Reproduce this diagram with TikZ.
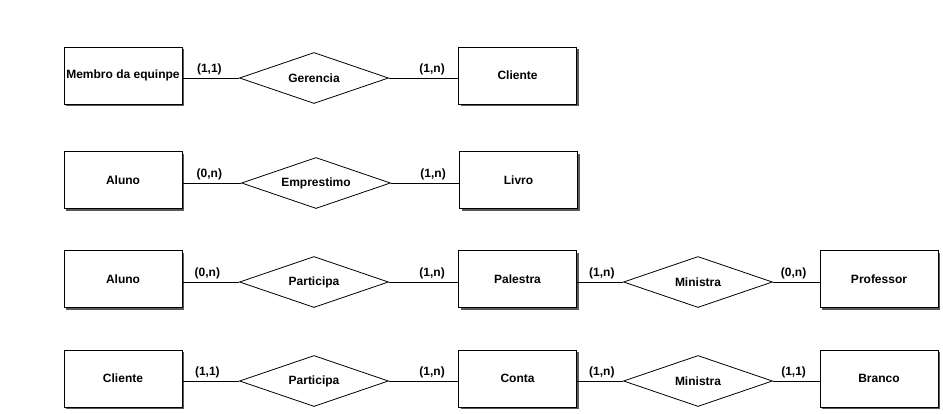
\documentclass[tikz,border=0pt]{standalone}
\usepackage{fontspec}
\setmainfont{Liberation Sans}
\usetikzlibrary{shapes.geometric,shadows}
\begin{document}
\begin{tikzpicture}[x=1pt,y=-1pt,
  font=\fontsize{12}{14}\selectfont\bfseries,
  entity/.style={draw=black, line width=0.8pt, fill=white, minimum width=118pt, minimum height=57pt, inner sep=0pt,
    drop shadow={shadow xshift=2pt, shadow yshift=-2pt, fill=black!65, opacity=1}},
  rel/.style={diamond, aspect=3, draw=black, line width=0.8pt, fill=white, minimum width=149pt, minimum height=51pt, inner sep=0pt},
  conn/.style={draw=black, line width=0.8pt},
  card/.style={inner sep=1pt, anchor=south}]
\useasboundingbox (0,0) rectangle (943,413);
% Row 1
\node[entity] (e11) at (123,75.5) {Membro da equinpe};
\node[rel] (r11) at (314,78) {Gerencia};
\node[entity] (e12) at (517.5,75.5) {Cliente};
\draw[conn] (e11.east |- r11.west) -- (r11.west);
\draw[conn] (r11.east) -- (e12.west |- r11.east);
\node[card] (c11) at ([xshift=27pt,yshift=1.5pt]e11.east |- r11.west) {(1,1)};
\node[card] (c12) at ([xshift=-26pt,yshift=1.5pt]e12.west |- r11.east) {(1,n)};
% Row 2
\node[entity] (e21) at (123,180) {Aluno};
\node[rel] (r21) at (316,183) {Emprestimo};
\node[entity] (e22) at (518.5,180) {Livro};
\draw[conn] (e21.east |- r21.west) -- (r21.west);
\draw[conn] (r21.east) -- (e22.west |- r21.east);
\node[card] (c21) at ([xshift=27pt,yshift=1.5pt]e21.east |- r21.west) {(0,n)};
\node[card] (c22) at ([xshift=-26pt,yshift=1.5pt]e22.west |- r21.east) {(1,n)};
% Row 3
\node[entity] (e31) at (123,279) {Aluno};
\node[rel] (r31) at (314,282) {Participa};
\node[entity] (e32) at (517.5,279) {Palestra};
\node[rel] (r32) at (698,282) {Ministra};
\node[entity] (e33) at (879,279) {Professor};
\draw[conn] (e31.east |- r31.west) -- (r31.west);
\draw[conn] (r31.east) -- (e32.west |- r31.east);
\draw[conn] (e32.east |- r32.west) -- (r32.west);
\draw[conn] (r32.east) -- (e33.west |- r32.east);
\node[card] (c31) at ([xshift=25pt,yshift=1.5pt]e31.east |- r31.west) {(0,n)};
\node[card] (c32) at ([xshift=-26pt,yshift=1.5pt]e32.west |- r31.east) {(1,n)};
\node[card] (c33) at ([xshift=25pt,yshift=1.5pt]e32.east |- r32.west) {(1,n)};
\node[card] (c34) at ([xshift=-26pt,yshift=1.5pt]e33.west |- r32.east) {(0,n)};
% Row 4
\node[entity] (e41) at (123,378.5) {Cliente};
\node[rel] (r41) at (314,381) {Participa};
\node[entity] (e42) at (517.5,378.5) {Conta};
\node[rel] (r42) at (698,381) {Ministra};
\node[entity] (e43) at (879,378.5) {Branco};
\draw[conn] (e41.east |- r41.west) -- (r41.west);
\draw[conn] (r41.east) -- (e42.west |- r41.east);
\draw[conn] (e42.east |- r42.west) -- (r42.west);
\draw[conn] (r42.east) -- (e43.west |- r42.east);
\node[card] (c41) at ([xshift=25pt,yshift=1.5pt]e41.east |- r41.west) {(1,1)};
\node[card] (c42) at ([xshift=-26pt,yshift=1.5pt]e42.west |- r41.east) {(1,n)};
\node[card] (c43) at ([xshift=25pt,yshift=1.5pt]e42.east |- r42.west) {(1,n)};
\node[card] (c44) at ([xshift=-26pt,yshift=1.5pt]e43.west |- r42.east) {(1,1)};
\end{tikzpicture}
\end{document}
